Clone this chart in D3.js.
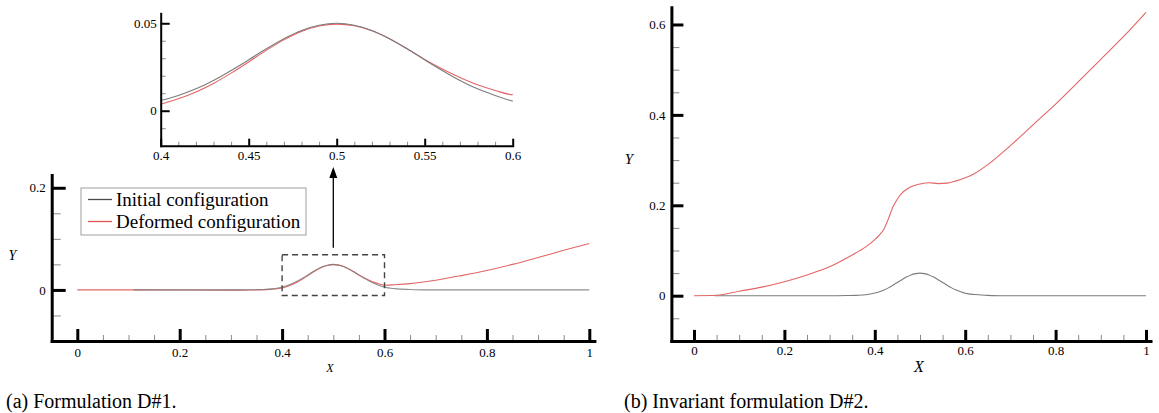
<!DOCTYPE html>
<html>
<head>
<meta charset="utf-8">
<script src="https://cdn.jsdelivr.net/npm/d3@7"></script>
<style>
    html, body { margin: 0; padding: 0; background: #fff; }
    svg text { font-family: 'Liberation Serif', 'Times New Roman', serif; fill: #000; }
</style>
</head>
<body>
<svg id="chart" width="1159" height="413"></svg>
<script>
(function () {
    'use strict';

    // initial configuration: the bump, shared by both panels
    var initialBump = [
        [0.30, 0], [0.34, 0.0003], [0.36, 0.0008], [0.38, 0.0020], [0.40, 0.0058],
        [0.41, 0.0087], [0.42, 0.0125], [0.43, 0.0173], [0.44, 0.0230], [0.45, 0.0291],
        [0.46, 0.0354], [0.47, 0.0412], [0.48, 0.0459], [0.49, 0.0489], [0.50, 0.0500],
        [0.51, 0.0489], [0.52, 0.0459], [0.53, 0.0412], [0.54, 0.0354], [0.55, 0.0291],
        [0.56, 0.0230], [0.57, 0.0173], [0.58, 0.0125], [0.59, 0.0087], [0.60, 0.0055],
        [0.62, 0.0025], [0.65, 0.0008], [0.68, 0]
    ];
    var initialA = [[0.11, 0]].concat(initialBump, [[1.0, 0]]);
    var initialB = [[0.045, 0]].concat(initialBump, [[1.0, 0]]);

    // deformed configuration, formulation D#1
    var deformedA = [
        [0, 0], [0.11, 0], [0.30, -0.0004], [0.34, -0.0002], [0.37, 0.0006], [0.40, 0.0038],
        [0.41, 0.0068], [0.42, 0.0107], [0.43, 0.0156], [0.44, 0.0215], [0.45, 0.0279],
        [0.46, 0.0345], [0.47, 0.0405], [0.48, 0.0453], [0.49, 0.0484], [0.50, 0.0495],
        [0.51, 0.0486], [0.52, 0.0457], [0.53, 0.0411], [0.54, 0.0354], [0.55, 0.0293],
        [0.56, 0.0238], [0.57, 0.0190], [0.58, 0.0148], [0.59, 0.0116], [0.60, 0.0092],
        [0.62, 0.0102], [0.65, 0.0124], [0.70, 0.0190], [0.75, 0.0280], [0.80, 0.0380],
        [0.85, 0.0500], [0.90, 0.0635], [0.95, 0.0775], [1.0, 0.0910]
    ];

    // deformed configuration, invariant formulation D#2
    var deformedB = [
        [0, 0], [0.05, 0.001], [0.10, 0.010], [0.15, 0.019], [0.20, 0.031], [0.25, 0.046],
        [0.30, 0.064], [0.35, 0.090], [0.38, 0.108], [0.40, 0.124], [0.41, 0.134],
        [0.42, 0.147], [0.43, 0.170], [0.44, 0.196], [0.45, 0.214], [0.46, 0.227],
        [0.47, 0.235], [0.48, 0.241], [0.50, 0.247], [0.52, 0.250], [0.54, 0.248],
        [0.56, 0.249], [0.58, 0.254], [0.60, 0.261], [0.62, 0.270], [0.65, 0.290],
        [0.70, 0.332], [0.75, 0.378], [0.80, 0.424], [0.85, 0.473], [0.90, 0.523],
        [0.95, 0.573], [1.0, 0.627]
    ];

    var mainXTicks = [0, 0.2, 0.4, 0.6, 0.8, 1],
        mainXMinor = [0.05, 0.1, 0.15, 0.25, 0.3, 0.35, 0.45, 0.5, 0.55, 0.65, 0.7, 0.75, 0.85, 0.9, 0.95];
    var leftYTicks = [0, 0.2],
        leftYMinor = [-0.05, 0.05, 0.1, 0.15];
    var rightYTicks = [0, 0.2, 0.4, 0.6],
        rightYMinor = [-0.05, 0.05, 0.1, 0.15, 0.25, 0.3, 0.35, 0.45, 0.5, 0.55];
    var insetXTicks = [0.4, 0.45, 0.5, 0.55, 0.6],
        insetYTicks = [0, 0.05],
        insetYMinor = [-0.01, 0.01, 0.02, 0.03, 0.04];
    var insetXMinor = d3.range(41, 60).filter(function (v) { return v % 5 !== 0; })
        .map(function (v) { return v / 100; });

    var zoomBox = { x0: 0.4, x1: 0.6, y0: -0.011, y1: 0.069 };
    var legendItems = [
        { name: 'Initial configuration', color: '#4a4a4a' },
        { name: 'Deformed configuration', color: '#e05050' }
    ];

    var GRAY = '#7c7c7c',
        RED = '#e46565',
        SERIF = "'Liberation Serif', 'Times New Roman', serif";

    var svg = d3.select('#chart');
    svg.append('rect').attr('width', 1159).attr('height', 413).attr('fill', '#fff');

    var fmt = function (d) { return String(+d.toFixed(2)); };

    function drawAxes(g, x, y, o) {
        var xMinor = g.append('g')
            .attr('transform', 'translate(0,' + y.range()[0] + ')')
            .call(d3.axisBottom(x).tickValues(o.xMinor).tickSize(-o.xMinorLen).tickSizeOuter(0).tickFormat(''));
        xMinor.select('.domain').remove();
        xMinor.selectAll('line').attr('stroke', '#8a8a8a').attr('stroke-width', 1);

        var yMinor = g.append('g')
            .attr('transform', 'translate(' + x.range()[0] + ',0)')
            .call(d3.axisLeft(y).tickValues(o.yMinor).tickSize(-o.yMinorLen).tickSizeOuter(0).tickFormat(''));
        yMinor.select('.domain').remove();
        yMinor.selectAll('line').attr('stroke', '#8a8a8a').attr('stroke-width', 1);

        var xAxis = g.append('g')
            .attr('transform', 'translate(0,' + y.range()[0] + ')')
            .call(d3.axisBottom(x).tickValues(o.xTicks).tickSize(-o.xMajorLen).tickSizeOuter(0)
                .tickPadding(o.xPad).tickFormat(fmt));
        var yAxis = g.append('g')
            .attr('transform', 'translate(' + x.range()[0] + ',0)')
            .call(d3.axisLeft(y).tickValues(o.yTicks).tickSize(-o.yMajorLen).tickSizeOuter(0)
                .tickPadding(o.yPad).tickFormat(fmt));

        [xAxis, yAxis].forEach(function (a) {
            a.attr('font-family', SERIF).attr('font-size', o.font);
            a.select('.domain').attr('stroke', '#000').attr('stroke-width', o.width)
                .attr('stroke-linecap', 'square');
            a.selectAll('.tick line').attr('stroke', '#000').attr('stroke-width', o.width);
            a.selectAll('.tick text')
                .attr('font-family', SERIF)
                .style('font-size', o.font + 'px');
        });
    }

    function curve(g, x, y, data, color) {
        var line = d3.line()
            .x(function (d) { return x(d[0]); })
            .y(function (d) { return y(d[1]); })
            .curve(d3.curveMonotoneX);
        return g.append('path')
            .datum(data)
            .attr('d', line)
            .attr('fill', 'none')
            .attr('stroke', color)
            .attr('stroke-width', 1.1);
    }

    // ---- panel (a) ----
    var xA = d3.scaleLinear().domain([-0.05, 1.01]).range([51.7, 51.7 + 1.06 * 512]);
    var yA = d3.scaleLinear().domain([-0.1, 0.225]).range([341, 175]);
    var gA = svg.append('g').attr('class', 'panel-a');

    curve(gA, xA, yA, deformedA, RED);
    curve(gA, xA, yA, initialA, GRAY).attr('stroke-opacity', 0.85);

    drawAxes(gA, xA, yA, {
        xTicks: mainXTicks, xMinor: mainXMinor, yTicks: leftYTicks, yMinor: leftYMinor,
        xMajorLen: 12, xMinorLen: 6, yMajorLen: 14, yMinorLen: 9,
        xPad: 7, yPad: 6, width: 3, font: 13
    });

    gA.append('rect')
        .attr('x', xA(zoomBox.x0))
        .attr('y', yA(zoomBox.y1))
        .attr('width', xA(zoomBox.x1) - xA(zoomBox.x0))
        .attr('height', yA(zoomBox.y0) - yA(zoomBox.y1))
        .attr('fill', 'none')
        .attr('stroke', '#444')
        .attr('stroke-width', 1.4)
        .attr('stroke-dasharray', '6,4');

    var ax = xA(0.5);
    gA.append('line')
        .attr('x1', ax).attr('x2', ax)
        .attr('y1', yA(zoomBox.y1) - 7).attr('y2', 176)
        .attr('stroke', '#000').attr('stroke-width', 1.3);
    gA.append('path')
        .attr('d', 'M' + ax + ',167L' + (ax - 4) + ',178L' + (ax + 4) + ',178Z')
        .attr('fill', '#000');

    var legend = gA.append('g').attr('class', 'legend');
    legend.append('rect')
        .attr('x', 81).attr('y', 188).attr('width', 225).attr('height', 47)
        .attr('fill', '#fff').attr('stroke', '#a0a0a0').attr('stroke-width', 1);
    var legendItem = legend.selectAll('.item')
        .data(legendItems)
        .enter().append('g')
        .attr('class', 'item')
        .attr('transform', function (d, i) {
            return 'translate(0,' + (199.5 + i * 22) + ')';
        });
    legendItem.append('line')
        .attr('x1', 88).attr('x2', 112)
        .attr('stroke', function (d) { return d.color; })
        .attr('stroke-width', 1.3);
    legendItem.append('text')
        .attr('x', 116)
        .attr('dy', '0.35em')
        .attr('font-family', SERIF)
        .style('font-size', '19px')
        .text(function (d) { return d.name; });

    gA.append('text')
        .attr('x', 12.5).attr('y', 255).attr('dy', '0.35em')
        .attr('text-anchor', 'middle')
        .attr('font-family', SERIF)
        .style('font-size', '14px').style('font-style', 'italic')
        .text('Y');
    gA.append('text')
        .attr('x', 330).attr('y', 368).attr('dy', '0.35em')
        .attr('text-anchor', 'middle')
        .attr('font-family', SERIF)
        .style('font-size', '12px').style('font-style', 'italic')
        .text('X');

    // ---- inset zoom of (a) ----
    var xI = d3.scaleLinear().domain([0.4, 0.6]).range([160.7, 512.7]);
    var yI = d3.scaleLinear().domain([-0.02, 0.0557]).range([145.7, 13.3]);
    var gI = svg.append('g').attr('class', 'inset');

    gI.append('clipPath').attr('id', 'inset-clip')
        .append('rect')
        .attr('x', xI.range()[0]).attr('y', yI.range()[1])
        .attr('width', xI.range()[1] - xI.range()[0])
        .attr('height', yI.range()[0] - yI.range()[1]);
    var gIc = gI.append('g').attr('clip-path', 'url(#inset-clip)');
    curve(gIc, xI, yI, deformedA, RED);
    curve(gIc, xI, yI, initialA, GRAY);

    drawAxes(gI, xI, yI, {
        xTicks: insetXTicks, xMinor: insetXMinor, yTicks: insetYTicks, yMinor: insetYMinor,
        xMajorLen: 7, xMinorLen: 4, yMajorLen: 9, yMinorLen: 5,
        xPad: 5, yPad: 4, width: 2, font: 13
    });

    // ---- panel (b) ----
    var xB = d3.scaleLinear().domain([-0.05, 1.01]).range([671.4, 671.4 + 1.06 * 452]);
    var yB = d3.scaleLinear().domain([-0.1, 0.638]).range([340.9, 7.3]);
    var gB = svg.append('g').attr('class', 'panel-b');

    curve(gB, xB, yB, initialB, GRAY);
    curve(gB, xB, yB, deformedB, RED);

    drawAxes(gB, xB, yB, {
        xTicks: mainXTicks, xMinor: mainXMinor, yTicks: rightYTicks, yMinor: rightYMinor,
        xMajorLen: 11, xMinorLen: 6, yMajorLen: 12, yMinorLen: 8,
        xPad: 5, yPad: 6, width: 3, font: 13
    });

    gB.append('text')
        .attr('x', 629).attr('y', 159).attr('dy', '0.35em')
        .attr('text-anchor', 'middle')
        .attr('font-family', SERIF)
        .style('font-size', '15px').style('font-style', 'italic')
        .text('Y');
    gB.append('text')
        .attr('x', 919).attr('y', 366).attr('dy', '0.35em')
        .attr('text-anchor', 'middle')
        .attr('font-family', SERIF)
        .style('font-size', '16px').style('font-style', 'italic')
        .text('X');

    // captions
    svg.append('text')
        .attr('x', 6).attr('y', 401).attr('dy', '0.35em')
        .attr('font-family', SERIF)
        .style('font-size', '20px')
        .text('(a) Formulation D#1.');
    svg.append('text')
        .attr('x', 624).attr('y', 401).attr('dy', '0.35em')
        .attr('font-family', SERIF)
        .style('font-size', '20px')
        .text('(b) Invariant formulation D#2.');
})();
</script>
</body>
</html>
